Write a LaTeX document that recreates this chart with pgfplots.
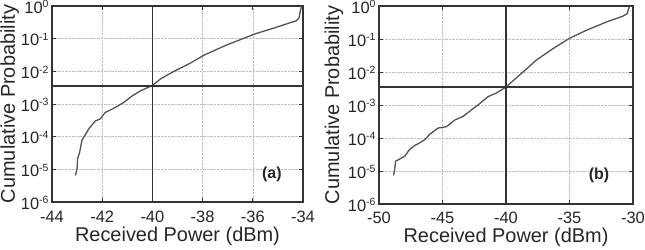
\documentclass[border=0pt]{standalone}
\usepackage{pgfplots}
\pgfplotsset{compat=1.18}
\usepackage{fontspec}
\setmainfont{Liberation Sans}

\definecolor{frame}{gray}{0.2}
\definecolor{curve}{gray}{0.32}

% decade label: 10 with a small raised exponent
\newcommand{\dec}[1]{10\raisebox{0.62ex}{\fontsize{10.5}{11}\selectfont#1}}

\begin{document}
\begin{tikzpicture}
\useasboundingbox (0,0) rectangle (645bp,250bp);

% (a) received power over the narrow range
\begin{axis}[
  scale only axis,
  at={(52bp,48bp)}, anchor=south west,
  width=251bp, height=196bp,
  xmin=-44, xmax=-34,
  xtick={-44,-42,-40,-38,-36,-34},
  xticklabels={-44,-42,-40,-38,-36,-34},
  ymode=log,
  ymin=1e-6, ymax=1,
  ytick={1e-6,1e-5,1e-4,1e-3,1e-2,1e-1,1},
  yticklabels={\dec{-6},\dec{-5},\dec{-4},\dec{-3},\dec{-2},\dec{-1},\dec{0}},
  yminorticks=false,
  grid=major,
  major grid style={densely dotted, gray!50, line width=0.6pt},
  axis line style={frame, line width=1.6pt},
  tick style={frame, line width=0.8pt},
  major tick length=4pt,
  tick align=inside,
  ticklabel style={font=\fontsize{16.5}{18}\selectfont, text=black!85},
  xticklabel style={inner ysep=1bp, yshift=-7.5bp},
  yticklabel style={inner ysep=1bp, yshift=-1bp},
  xlabel={Received Power (dBm)},
  ylabel={Cumulative Probability},
  xlabel style={font=\fontsize{20}{22}\selectfont, text=black!85, at={(axis description cs:0.5,-0.177)}, anchor=center},
  ylabel style={font=\fontsize{20}{22}\selectfont, text=black!85, at={(axis description cs:-0.168,0.5)}, anchor=center},
]
\addplot[curve, line width=1.3pt, no marks] coordinates {
  (-43.07,6.5e-6) (-43.00,1.05e-5) (-42.98,2.1e-5) (-42.90,3.3e-5)
  (-42.81,7.6e-5) (-42.74,9.5e-5) (-42.54,1.7e-4) (-42.28,3.0e-4)
  (-42.08,3.5e-4) (-41.88,5.5e-4) (-41.48,7.8e-4) (-41.15,1.1e-3)
  (-40.82,1.74e-3) (-40.49,2.5e-3) (-40.00,3.7e-3) (-39.67,5.9e-3)
  (-39.14,1.0e-2) (-38.48,1.8e-2) (-37.92,3.2e-2) (-37.02,6.5e-2)
  (-35.90,0.141) (-35.17,0.21) (-34.26,0.355) (-34.16,0.43)
  (-34.10,0.76) (-34.05,1.0)
};
\addplot[frame, line width=1.6pt, no marks] coordinates {(-44,3.6e-3) (-34,3.6e-3)};
\addplot[frame, line width=1.6pt, no marks] coordinates {(-40,1e-6) (-40,1)};
\node[font=\bfseries\fontsize{16}{18}\selectfont, text=black!85] at (axis description cs:0.876,0.14) {(a)};
\end{axis}

% (b) received power over the wide range
\begin{axis}[
  scale only axis,
  at={(379bp,46bp)}, anchor=south west,
  width=254bp, height=198bp,
  xmin=-50, xmax=-30,
  xtick={-50,-45,-40,-35,-30},
  xticklabels={-50,-45,-40,-35,-30},
  ymode=log,
  ymin=1e-6, ymax=1,
  ytick={1e-6,1e-5,1e-4,1e-3,1e-2,1e-1,1},
  yticklabels={\dec{-6},\dec{-5},\dec{-4},\dec{-3},\dec{-2},\dec{-1},\dec{0}},
  yminorticks=false,
  grid=major,
  major grid style={densely dotted, gray!50, line width=0.6pt},
  axis line style={frame, line width=1.6pt},
  tick style={frame, line width=0.8pt},
  major tick length=4pt,
  tick align=inside,
  ticklabel style={font=\fontsize{16.5}{18}\selectfont, text=black!85},
  xticklabel style={inner ysep=1bp, yshift=-6.5bp},
  yticklabel style={inner ysep=1bp, yshift=-1bp},
  xlabel={Received Power (dBm)},
  ylabel={Cumulative Probability},
  xlabel style={font=\fontsize{20}{22}\selectfont, text=black!85, at={(axis description cs:0.5,-0.17)}, anchor=center},
  ylabel style={font=\fontsize{20}{22}\selectfont, text=black!85, at={(axis description cs:-0.177,0.5)}, anchor=center},
]
\addplot[curve, line width=1.3pt, no marks] coordinates {
  (-48.85,7.4e-6) (-48.77,1.1e-5) (-48.69,2.0e-5) (-48.37,2.3e-5)
  (-47.98,2.8e-5) (-47.59,4.5e-5) (-47.20,5.9e-5) (-46.80,7.1e-5)
  (-46.40,8.9e-5) (-46.00,1.3e-4) (-45.35,2.0e-4) (-44.69,2.2e-4)
  (-44.03,3.5e-4) (-43.38,4.5e-4) (-42.73,7.1e-4) (-42.07,1.1e-3)
  (-41.41,1.8e-3) (-40.76,2.3e-3) (-40.00,3.5e-3) (-39.45,5.4e-3)
  (-38.66,1.0e-2) (-37.61,2.3e-2) (-36.30,5.1e-2) (-35.00,0.105)
  (-33.64,0.186) (-32.07,0.33) (-30.80,0.49) (-30.45,0.59)
  (-30.35,0.83) (-30.24,1.0)
};
\addplot[frame, line width=1.6pt, no marks] coordinates {(-50,3.5e-3) (-30,3.5e-3)};
\addplot[frame, line width=1.6pt, no marks] coordinates {(-40,1e-6) (-40,1)};
\node[font=\bfseries\fontsize{16}{18}\selectfont, text=black!85] at (axis description cs:0.866,0.146) {(b)};
\end{axis}
\end{tikzpicture}
\end{document}
